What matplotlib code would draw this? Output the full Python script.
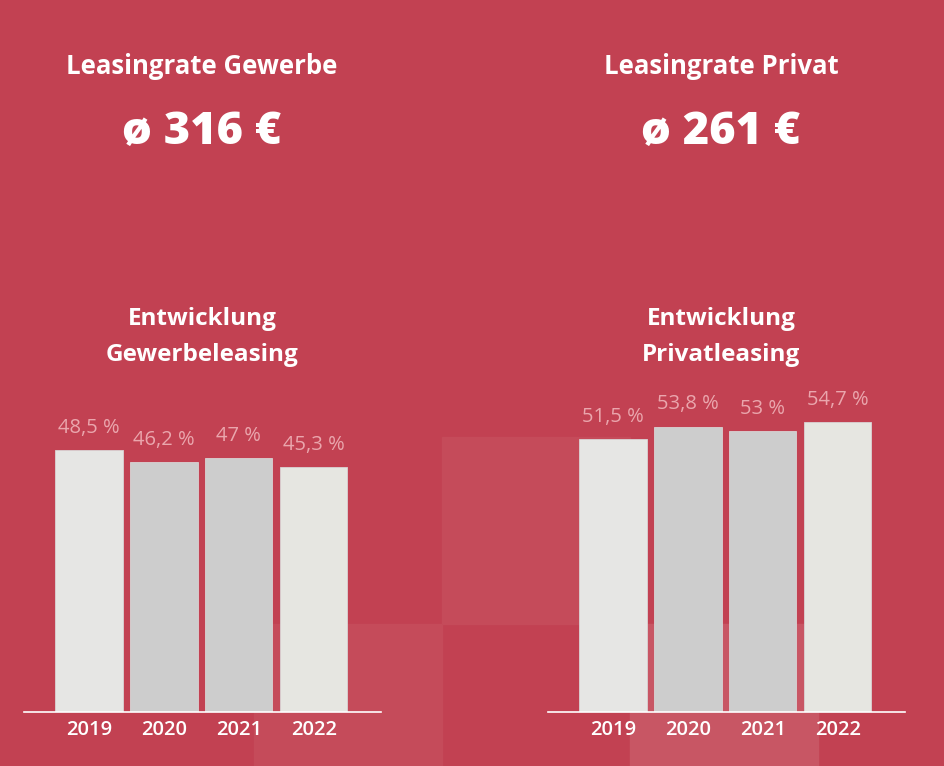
import matplotlib
matplotlib.use("Agg")
import matplotlib.pyplot as plt
from matplotlib.patches import Rectangle

# data
years = ["2019", "2020", "2021", "2022"]
gewerbe = [48.5, 46.2, 47.0, 45.3]
privat = [51.5, 53.8, 53.0, 54.7]
gewerbe_labels = ["48,5 %", "46,2 %", "47 %", "45,3 %"]
privat_labels = ["51,5 %", "53,8 %", "53 %", "54,7 %"]

W, H = 944, 766
bg = "#C24152"
bar_colors = ["#E6E6E4", "#CDCDCD", "#CDCDCD", "#E6E6E1"]
label_color = "#EAA6AD"
plt.rcParams['font.family'] = ['Open Sans', 'DejaVu Sans']


def fx(x):
    return x / W


def fy(y):
    return 1 - y / H


fig = plt.figure(figsize=(W / 100, H / 100), dpi=100)
fig.patch.set_facecolor(bg)

# lighter background blocks (behind the charts)
for (x0, y0, x1, y1, c) in [(442, 437, 630, 624, "#C54B5A"),
                            (254, 624, 442, 766, "#C54B5A"),
                            (630, 624, 818, 766, "#C85664")]:
    fig.patches.append(Rectangle((fx(x0), fy(y1)), fx(x1) - fx(x0), fy(y0) - fy(y1),
                                 transform=fig.transFigure, color=c, zorder=-10))

# headline texts
for cx, title, value, sub in [(202, "Leasingrate Gewerbe", "ø 316 €", "Entwicklung\nGewerbeleasing"),
                              (721, "Leasingrate Privat", "ø 261 €", "Entwicklung\nPrivatleasing")]:
    fig.text(fx(cx), fy(66), title, color="white", fontsize=18.5, fontweight="bold",
             ha="center", va="center")
    fig.text(fx(cx), fy(132), value, color="white", fontsize=32.5, fontweight="heavy",
             ha="center", va="center")
    fig.text(fx(cx), fy(337), sub, color="white", fontsize=17.5, fontweight="bold",
             ha="center", va="center", linespacing=1.62)


def bar_chart(x0, x1, vals, labels, ymax):
    ax = fig.add_axes([fx(x0), fy(712), fx(x1) - fx(x0), fy(380) - fy(712)])
    ax.set_facecolor("none")
    pos = range(len(vals))
    ax.bar(pos, vals, width=0.9, color=bar_colors, edgecolor="#D9D3D4", linewidth=0.6, zorder=2)
    for p, v, t in zip(pos, vals, labels):
        ax.annotate(t, (p, v), xytext=(0, 16), textcoords="offset points",
                    ha="center", va="center", color=label_color, fontsize=14.5)
    ax.set_xlim(-0.87, 3.9)
    ax.set_ylim(0, ymax)
    ax.set_xticks(list(pos))
    ax.set_xticklabels(years, color="white", fontsize=14.5, fontweight="semibold")
    ax.tick_params(axis="x", length=0, pad=5.5)
    ax.set_yticks([])
    for s in ["top", "left", "right"]:
        ax.spines[s].set_visible(False)
    ax.spines["bottom"].set_color("white")
    ax.spines["bottom"].set_linewidth(1.2)
    ax.spines["bottom"].set_zorder(3)
    return ax


bar_chart(24, 381, gewerbe, gewerbe_labels, 61.4)
bar_chart(548, 905, privat, privat_labels, 62.6)

fig.savefig("out.png", dpi=100, facecolor=bg)
